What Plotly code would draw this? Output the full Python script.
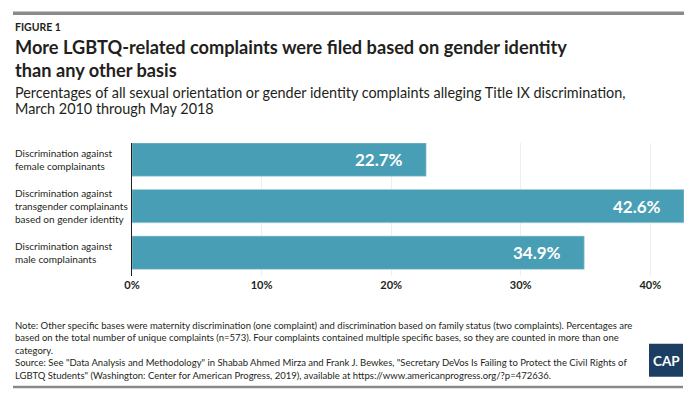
import plotly.graph_objects as go

categories = [
    "Discrimination against<br>female complainants",
    "Discrimination against<br>transgender complainants<br>based on gender identity",
    "Discrimination against<br>male complainants",
]
values = [22.7, 42.6, 34.9]
value_labels = ["22.7%", "42.6%", "34.9%"]
tick_vals = [0, 10, 20, 30, 40]
tick_text = ["0%", "10%", "20%", "30%", "40%"]

title_lines = [
    "More LGBTQ-related complaints were filed based on gender identity",
    "than any other basis",
]
subtitle_lines = [
    "Percentages of all sexual orientation or gender identity complaints alleging Title IX discrimination,",
    "March 2010 through May 2018",
]
note_lines = [
    "Note: Other specific bases were maternity discrimination (one complaint) and discrimination based on family status (two complaints). Percentages are",
    "based on the total number of unique complaints (n=573). Four complaints contained multiple specific bases, so they are counted in more than one",
    "category.",
    "Source: See \"Data Analysis and Methodology\" in Shabab Ahmed Mirza and Frank J. Bewkes, \"Secretary DeVos Is Failing to Protect the Civil Rights of",
    "LGBTQ Students\" (Washington: Center for American Progress, 2019), available at https://www.americanprogress.org/?p=472636.",
]

# page body has an 8px margin; figure is drawn offset by it
OFF = 8
PW, PH = 694, 398
L, R, T, B = 132, 684, 142.7, 276

def px(x):
    return (x - L) / (R - L)

def py(y):
    return (B - y) / (B - T)

BAR = "#489eb4"
FONT = "Lato"
TXT = "#231f20"

fig = go.Figure()
fig.add_trace(go.Bar(
    y=list(range(len(categories))), x=values, orientation="h",
    marker=dict(color=BAR, line=dict(color="#a9d1db", width=0.6)),
    width=0.714, hoverinfo="skip",
))

annotations = []
for i, (v, t) in enumerate(zip(values, value_labels)):
    annotations.append(dict(x=v, y=i, xref="x", yref="y", text=t, showarrow=False,
                            xanchor="right", xshift=-21,
                            font=dict(family=FONT, size=17, color="white", weight="bold")))

for i, c in enumerate(categories):
    annotations.append(dict(x=px(13), y=i, xref="paper", yref="y", text=c, showarrow=False,
                            xanchor="left", yanchor="middle", align="left",
                            font=dict(family=FONT, size=10, color=TXT)))

annotations.append(dict(x=px(13), y=py(26), xref="paper", yref="paper", text="<b>FIGURE 1</b>",
                        showarrow=False, xanchor="left", yanchor="middle",
                        font=dict(family=FONT, size=10.5, color=TXT)))

for line, yy in zip(title_lines, [46.5, 70]):
    annotations.append(dict(x=px(13), y=py(yy), xref="paper", yref="paper", text=line,
                            showarrow=False, xanchor="left", yanchor="middle",
                            font=dict(family=FONT, size=18.2, color=TXT, weight="bold")))

for line, yy in zip(subtitle_lines, [92.5, 108]):
    annotations.append(dict(x=px(13), y=py(yy), xref="paper", yref="paper", text=line,
                            showarrow=False, xanchor="left", yanchor="middle",
                            font=dict(family=FONT, size=14.4, color=TXT)))

for line, yy in zip(note_lines, [325.5, 338, 350.5, 363, 375.5]):
    annotations.append(dict(x=px(13), y=py(yy), xref="paper", yref="paper", text=line,
                            showarrow=False, xanchor="left", yanchor="middle",
                            font=dict(family=FONT, size=9.5, color=TXT)))

annotations.append(dict(x=px(666), y=py(361), xref="paper", yref="paper", text="<b>CAP</b>",
                        showarrow=False, xanchor="center", yanchor="middle",
                        font=dict(family=FONT, size=13.5, color="white")))

shapes = [
    dict(type="rect", xref="paper", yref="paper", x0=px(13), x1=px(684), y0=py(11), y1=py(14.5),
         fillcolor="#8a8a8a", line_width=0, layer="above"),
    dict(type="rect", xref="paper", yref="paper", x0=px(13), x1=px(683), y0=py(386), y1=py(388.5),
         fillcolor="#8a8a8a", line_width=0, layer="above"),
    dict(type="rect", xref="paper", yref="paper", x0=px(649), x1=px(683), y0=py(344), y1=py(377),
         fillcolor="#1c3e63", line_width=0, layer="above"),
]

fig.update_layout(
    width=PW - OFF, height=PH - OFF,
    margin=dict(l=L - OFF, r=PW - R, t=T - OFF, b=PH - B, pad=0),
    paper_bgcolor="white", plot_bgcolor="white",
    showlegend=False, bargap=0.286,
    xaxis=dict(range=[0, 42.6], tickvals=tick_vals, ticktext=tick_text,
               showgrid=True, gridcolor="#eeeeee", gridwidth=1, zeroline=False,
               showline=False, ticks="", ticklabelstandoff=1,
               tickfont=dict(family=FONT, size=11, color=TXT, weight="bold")),
    yaxis=dict(range=[2.5, -0.357], showticklabels=False, showgrid=False, zeroline=False,
               showline=True, linecolor=TXT, linewidth=1.2, ticks=""),
    annotations=annotations, shapes=shapes,
)

fig.write_html("out.html")
